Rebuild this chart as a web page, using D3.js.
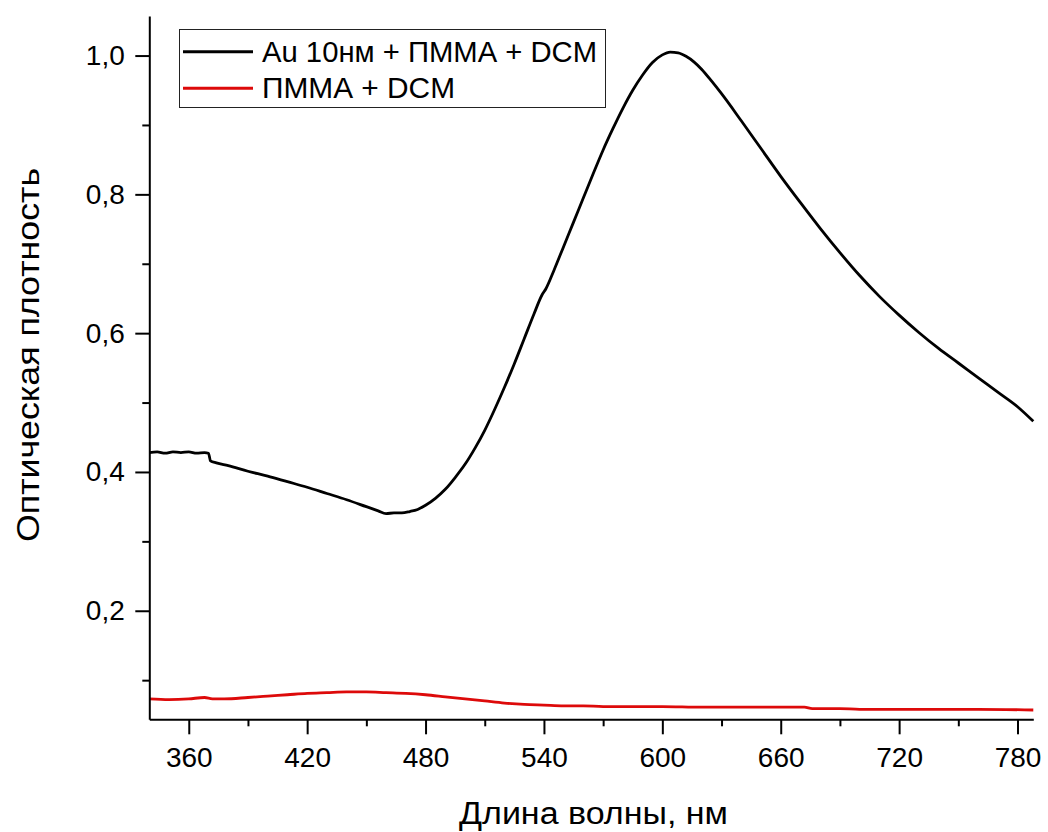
<!DOCTYPE html>
<html>
<head>
<meta charset="utf-8">
<script src="https://cdn.jsdelivr.net/npm/d3@7"></script>
<style>
  html, body { margin: 0; padding: 0; background: #fff; }
  svg { display: block; }
  text { font-family: "Liberation Sans", Arial, sans-serif; fill: #000; }
</style>
</head>
<body>
<svg id="chart" width="1048" height="832"></svg>
<script>
// ---- Data ----
const seriesNames = ["Au 10нм + ПММА + DCM", "ПММА + DCM"];
const seriesColors = ["#000000", "#dd0a0a"];

const auWavelength = [340, 344, 348, 352, 356, 360, 364, 368, 370, 371, 374, 380, 390, 400, 410, 420, 430, 440, 450, 456, 460, 464, 468, 472, 476, 480, 485, 490, 495, 500, 505, 510, 515, 520, 525, 530, 535, 539, 541, 545, 550, 555, 560, 565, 570, 575, 580, 585, 590, 595, 600, 604, 608, 612, 616, 620, 625, 630, 640, 650, 660, 670, 680, 690, 700, 710, 720, 730, 740, 750, 760, 770, 780, 788];
const auValue      = [0.428, 0.429, 0.427, 0.429, 0.428, 0.429, 0.427, 0.428, 0.427, 0.416, 0.413, 0.409, 0.401, 0.394, 0.386, 0.378, 0.369, 0.360, 0.350, 0.344, 0.340, 0.341, 0.341, 0.343, 0.346, 0.352, 0.362, 0.375, 0.392, 0.411, 0.434, 0.460, 0.490, 0.522, 0.556, 0.592, 0.628, 0.655, 0.664, 0.690, 0.725, 0.760, 0.795, 0.830, 0.864, 0.895, 0.924, 0.950, 0.972, 0.990, 1.001, 1.005, 1.004, 0.999, 0.991, 0.980, 0.963, 0.945, 0.906, 0.866, 0.826, 0.788, 0.751, 0.716, 0.683, 0.653, 0.626, 0.601, 0.578, 0.557, 0.536, 0.515, 0.494, 0.473];

const pmmaWavelength = [340, 350, 360, 368, 372, 378, 390, 400, 410, 420, 430, 440, 450, 460, 470, 480, 490, 500, 510, 520, 530, 540, 550, 560, 570, 580, 600, 620, 640, 660, 672, 676, 690, 700, 720, 740, 760, 788];
const pmmaValue      = [0.073, 0.072, 0.073, 0.075, 0.073, 0.073, 0.075, 0.077, 0.079, 0.081, 0.082, 0.083, 0.083, 0.082, 0.081, 0.079, 0.076, 0.073, 0.070, 0.067, 0.065, 0.064, 0.063, 0.063, 0.062, 0.062, 0.062, 0.061, 0.061, 0.061, 0.061, 0.059, 0.059, 0.058, 0.058, 0.058, 0.058, 0.057];

const xMajorTicks = [360, 420, 480, 540, 600, 660, 720, 780];
const xMinorTicks = [390, 450, 510, 570, 630, 690, 750];
const yMajorTicks = [0.2, 0.4, 0.6, 0.8, 1.0];
const yMinorTicks = [0.1, 0.3, 0.5, 0.7, 0.9];
const xTitle = "Длина волны, нм";
const yTitle = "Оптическая плотность";

// ---- Layout ----
const svg = d3.select("#chart");
const plotLeft = 149.3, plotRight = 1033.3, plotTop = 16, plotBottom = 719.3;

const x = d3.scaleLinear().domain([340, 788]).range([plotLeft, plotRight]);
const y = d3.scaleLinear().domain([0.0436, 1.057]).range([plotBottom, plotTop]);

const fmt = v => d3.format(".1f")(v).replace(".", ",");

// Curves
const series = [
  { wl: auWavelength, val: auValue },
  { wl: pmmaWavelength, val: pmmaValue }
];
const line = d3.line()
  .x(d => x(d[0]))
  .y(d => y(d[1]))
  .curve(d3.curveMonotoneX);

[1, 0].forEach(i => {
  const pts = series[i].wl.map((w, k) => [w, series[i].val[k]]);
  svg.append("path")
    .datum(pts)
    .attr("fill", "none")
    .attr("stroke", seriesColors[i])
    .attr("stroke-width", 2.8)
    .attr("stroke-linejoin", "round")
    .attr("d", line);
});

// Axes
const axisStyle = g => {
  g.select(".domain").attr("stroke", "#000").attr("stroke-width", 2);
  g.selectAll(".tick line").attr("stroke", "#000").attr("stroke-width", 2);
  g.selectAll("text").style("font-size", "28px").attr("font-family", null);
};

const xMinor = svg.append("g").attr("transform", `translate(0,${plotBottom})`)
  .call(d3.axisBottom(x).tickValues(xMinorTicks).tickSize(7).tickFormat(""));
xMinor.select(".domain").remove();
xMinor.selectAll(".tick line").attr("stroke", "#000").attr("stroke-width", 2);

svg.append("g").attr("transform", `translate(0,${plotBottom})`)
  .call(d3.axisBottom(x).tickValues(xMajorTicks).tickSize(15).tickPadding(13).tickSizeOuter(0).tickFormat(d3.format("d")))
  .call(axisStyle);

const yMinor = svg.append("g").attr("transform", `translate(${plotLeft},0)`)
  .call(d3.axisLeft(y).tickValues(yMinorTicks).tickSize(7).tickFormat(""));
yMinor.select(".domain").remove();
yMinor.selectAll(".tick line").attr("stroke", "#000").attr("stroke-width", 2);

svg.append("g").attr("transform", `translate(${plotLeft},0)`)
  .call(d3.axisLeft(y).tickValues(yMajorTicks).tickSize(14).tickPadding(10.5).tickSizeOuter(0).tickFormat(fmt))
  .call(axisStyle);

// Axis titles
svg.append("text")
  .attr("x", 593.5).attr("y", 824)
  .attr("text-anchor", "middle")
  .style("font-size", "31px")
  .attr("textLength", 269).attr("lengthAdjust", "spacingAndGlyphs")
  .text(xTitle);

svg.append("text")
  .attr("transform", "translate(39,355) rotate(-90)")
  .attr("text-anchor", "middle")
  .style("font-size", "32px")
  .attr("textLength", 374).attr("lengthAdjust", "spacingAndGlyphs")
  .text(yTitle);

// Legend
const lg = svg.append("g");
lg.append("rect")
  .attr("x", 179.5).attr("y", 29.5).attr("width", 426).attr("height", 78)
  .attr("fill", "#fff").attr("stroke", "#222").attr("stroke-width", 1);
const legendRows = [51.7, 88.3];
const legendLens = [335, 193];
seriesNames.forEach((name, i) => {
  lg.append("line")
    .attr("x1", 183).attr("x2", 253)
    .attr("y1", legendRows[i]).attr("y2", legendRows[i])
    .attr("stroke", seriesColors[i]).attr("stroke-width", 3);
  lg.append("text")
    .attr("x", 262).attr("y", legendRows[i] + 10)
    .style("font-size", "29px")
    .attr("textLength", legendLens[i]).attr("lengthAdjust", "spacingAndGlyphs")
    .text(name);
});
</script>
</body>
</html>
